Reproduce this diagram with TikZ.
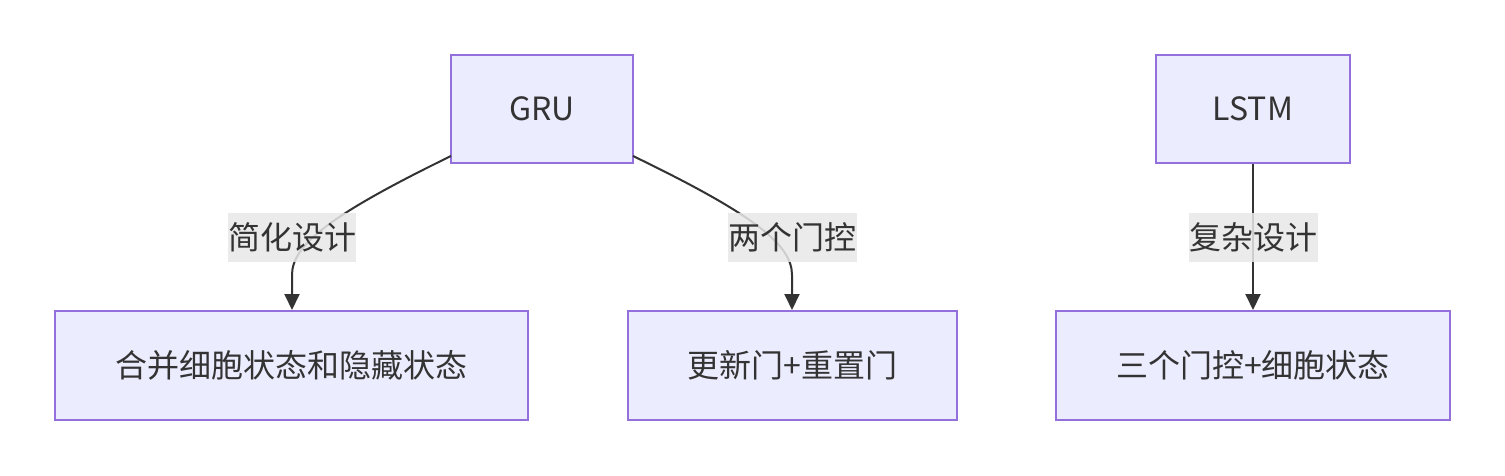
\documentclass[tikz,border=0pt]{standalone}
\usepackage{fontspec}
\setmainfont{Noto Sans CJK SC}
\usetikzlibrary{arrows.meta}
\definecolor{nodefill}{HTML}{ECECFF}
\definecolor{nodeline}{HTML}{9370DB}
\definecolor{edgecol}{HTML}{333333}
\definecolor{lblbg}{HTML}{E8E8E8}
\begin{document}
\begin{tikzpicture}[x=1pt,y=-1pt,
  box/.style={draw=nodeline,fill=nodefill,line width=2pt,inner sep=0pt,text=edgecol,font=\fontsize{32}{38}\selectfont},
  lbl/.style={fill=lblbg,fill opacity=0.85,text opacity=1,text=edgecol,inner sep=0pt,minimum height=49pt,font=\fontsize{32}{38}\selectfont},
  edge/.style={draw=edgecol,line width=2pt,-{Triangle[length=16pt,width=15pt]}}]
\useasboundingbox (0,0) rectangle (1505,476);
\node[box,minimum width=182pt,minimum height=108pt] (gru) at (542,109) {GRU};
\node[box,minimum width=194pt,minimum height=108pt] (lstm) at (1253,109) {LSTM};
\node[box,minimum width=473pt,minimum height=109pt] (merge) at (291.5,365.5) {合并细胞状态和隐藏状态};
\node[box,minimum width=329pt,minimum height=109pt] (upd) at (792.5,365.5) {更新门+重置门};
\node[box,minimum width=394pt,minimum height=109pt] (three) at (1253,365.5) {三个门控+细胞状态};
\coordinate (gl) at (451,156);
\coordinate (gr) at (633,156);
\draw[edge] (gl) .. controls (330,215) and (292,245) .. (292,275) -- (merge.north -| 292,0);
\draw[edge] (gr) .. controls (755,215) and (792,245) .. (792,275) -- (upd.north -| 792,0);
\draw[edge] (lstm) -- (three);
\node[lbl,minimum width=128pt] (l1) at (292,237.5) {简化设计};
\node[lbl,minimum width=129pt] (l2) at (792.5,237.5) {两个门控};
\node[lbl,minimum width=129pt] (l3) at (1253,237.5) {复杂设计};
\end{tikzpicture}
\end{document}
